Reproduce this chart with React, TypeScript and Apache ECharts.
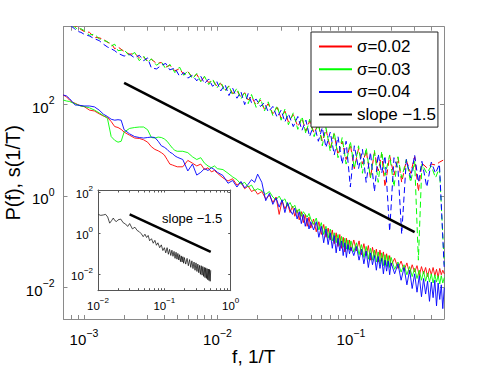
import React, { useEffect, useRef } from "react";
import * as echarts from "echarts";

// ---------- data ----------
// frequency grid of the P(f) curves
const fGrid = [
  0.0007, 0.00074, 0.00078, 0.00082, 0.00086, 0.0009, 0.00095, 0.001,
  0.0011, 0.0012, 0.0013, 0.0014, 0.0015, 0.0016, 0.0017, 0.0018, 0.0019, 0.002,
  0.0022, 0.0024, 0.0026, 0.0028, 0.003, 0.0032, 0.0034, 0.0036, 0.0038, 0.004, 0.0042, 0.0044, 0.0046, 0.0048, 0.005,
  0.0055, 0.006, 0.0065, 0.007, 0.0075, 0.008, 0.0085, 0.009, 0.0095, 0.01,
  0.011, 0.012, 0.013, 0.014, 0.015, 0.016, 0.017, 0.018, 0.019, 0.02,
  0.0215, 0.023, 0.0245, 0.026, 0.0275, 0.029, 0.0305, 0.032, 0.0335, 0.035, 0.0365, 0.038, 0.0395, 0.041, 0.0425, 0.044, 0.0455, 0.047, 0.0485, 0.05,
  0.0525, 0.055, 0.0575, 0.06, 0.0625, 0.065, 0.0675, 0.07, 0.0725, 0.075, 0.0775, 0.08, 0.0825, 0.085, 0.0875, 0.09, 0.0925, 0.095, 0.0975, 0.1,
  0.105, 0.11, 0.115, 0.12, 0.125, 0.13, 0.135, 0.14, 0.145, 0.15, 0.155, 0.16, 0.165, 0.17, 0.175, 0.18, 0.185, 0.19, 0.195, 0.2,
  0.2125, 0.225, 0.2375, 0.25, 0.2625, 0.275, 0.2875, 0.3, 0.3125, 0.325, 0.3375, 0.35, 0.3625, 0.375, 0.3875, 0.4, 0.4125, 0.425, 0.4375, 0.45, 0.4625, 0.475, 0.4875, 0.5,
];

// P(f), sigma = 0.02 (red)
const pRed = [
  162, 148, 126, 112, 107, 100, 93.3, 91.2,
  75.9, 72.4, 63.1, 56.2, 52.5, 42.7, 33.1, 31.6, 28.8, 25.1,
  21.4, 18.6, 18.2, 17.0, 15.1, 12.0, 10.5, 9.77, 8.91, 7.94, 6.31, 5.01, 4.79, 4.57, 4.37,
  4.37, 6.03, 5.25, 4.57, 5.01, 3.8, 4.17, 3.39, 3.63, 3.16,
  2.51, 2.14, 2.4, 1.74, 2.0, 1.45, 1.66, 1.26, 1.38, 1.1,
  1.26, 0.871, 1.05, 0.724, 0.955, 0.398, 0.794, 0.525, 0.692, 0.437, 0.603, 0.363, 0.501, 0.302, 0.457, 0.263, 0.398, 0.219, 0.347, 0.2,
  0.316, 0.166, 0.275, 0.145, 0.24, 0.126, 0.2, 0.11, 0.182, 0.0912, 0.158, 0.0794, 0.145, 0.0724, 0.126, 0.0603, 0.12, 0.0692, 0.11, 0.0631,
  0.11, 0.0631, 0.105, 0.0525, 0.0912, 0.0501, 0.0832, 0.0398, 0.0759, 0.0457, 0.0692, 0.0363, 0.0661, 0.038, 0.0603, 0.0316, 0.055, 0.0331, 0.0501, 0.0302,
  0.0437, 0.0263, 0.038, 0.024, 0.0347, 0.02, 0.0316, 0.0219, 0.0302, 0.0182, 0.0288, 0.02, 0.0275, 0.0174, 0.0263, 0.0191, 0.0275, 0.0182, 0.0251, 0.0166, 0.0263, 0.0191, 0.024, 0.02,
];

// P(f), sigma = 0.03 (green)
const pGreen = [
  126, 120, 117, 110, 105, 97.7, 93.3, 91.2,
  85.1, 75.9, 66.1, 57.5, 50.1, 20.0, 16.6, 15.1, 15.8, 25.1,
  30.2, 31.6, 32.4, 32.4, 28.2, 19.1, 18.6, 19.5, 19.1, 17.8, 15.8, 13.2, 11.2, 10.0, 9.55,
  9.55, 8.91, 7.24, 6.31, 6.92, 5.25, 4.57, 4.17, 4.57, 3.98,
  3.8, 3.16, 2.63, 2.29, 1.82, 2.0, 1.58, 1.74, 1.32, 1.45,
  1.32, 1.1, 1.26, 0.955, 0.832, 1.0, 0.759, 0.871, 0.603, 0.724, 0.55, 0.631, 0.437, 0.525, 0.363, 0.457, 0.398, 0.347, 0.417, 0.316,
  0.24, 0.331, 0.182, 0.263, 0.145, 0.219, 0.12, 0.191, 0.105, 0.158, 0.0955, 0.145, 0.0832, 0.132, 0.0759, 0.12, 0.0692, 0.11, 0.0661, 0.105,
  0.0603, 0.0955, 0.0525, 0.0871, 0.0457, 0.0794, 0.0417, 0.0724, 0.0398, 0.0661, 0.0363, 0.0603, 0.0331, 0.0575, 0.0302, 0.0525, 0.0288, 0.0501, 0.0275, 0.0457,
  0.0251, 0.0363, 0.0219, 0.0316, 0.0191, 0.0288, 0.0174, 0.0263, 0.0158, 0.024, 0.0145, 0.0229, 0.0138, 0.0209, 0.0132, 0.02, 0.0126, 0.0191, 0.0132, 0.0182, 0.012, 0.0182, 0.0126, 0.0166,
];

// P(f), sigma = 0.04 (blue)
const pBlue = [
  162, 155, 135, 115, 97.7, 97.7, 95.5, 93.3,
  93.3, 89.1, 75.9, 61.7, 55.0, 47.9, 45.7, 46.8, 45.7, 28.2,
  22.9, 20.0, 19.1, 18.6, 19.1, 19.5, 19.1, 15.8, 12.6, 11.7, 10.5, 9.12, 8.51, 7.59, 7.08,
  6.31, 3.55, 5.01, 2.88, 3.31, 3.98, 3.63, 4.17, 3.8, 3.31,
  2.82, 1.91, 2.19, 1.58, 2.09, 1.51, 1.82, 2.29, 2.0, 3.02,
  2.0, 0.794, 1.15, 0.661, 0.912, 0.575, 0.832, 0.437, 0.724, 0.501, 0.398, 0.55, 0.316, 0.457, 0.251, 0.398, 0.219, 0.331, 0.191, 0.275,
  0.182, 0.275, 0.126, 0.219, 0.0955, 0.191, 0.0871, 0.158, 0.0724, 0.138, 0.0575, 0.12, 0.0631, 0.105, 0.0501, 0.0955, 0.0457, 0.0871, 0.055, 0.0759,
  0.0501, 0.0794, 0.0398, 0.0692, 0.0331, 0.0631, 0.0275, 0.0575, 0.0316, 0.0501, 0.024, 0.0479, 0.0263, 0.0437, 0.02, 0.0398, 0.0229, 0.038, 0.0191, 0.0347,
  0.02, 0.0331, 0.0145, 0.0275, 0.0115, 0.024, 0.00955, 0.02, 0.00794, 0.0182, 0.00631, 0.0158, 0.00724, 0.0138, 0.00501, 0.0132, 0.00603, 0.0145, 0.00398, 0.0126, 0.0055, 0.0115, 0.00347, 0.01,
];

// frequency grid of the s(1/T) curves (dashed)
const fS = [
  0.0007, 0.00075, 0.0008, 0.00085, 0.0009, 0.00095, 0.001, 0.0011, 0.0012, 0.0013,
  0.0014, 0.0015, 0.0016, 0.0017, 0.0018, 0.002, 0.0022, 0.0024, 0.0026, 0.0028,
  0.003, 0.0032, 0.0035, 0.0038, 0.0041, 0.0044, 0.0048, 0.0052, 0.0056, 0.006,
  0.0065, 0.007, 0.0075, 0.008, 0.0086, 0.0092, 0.0099, 0.0106, 0.0114, 0.0122,
  0.013, 0.014, 0.015, 0.016, 0.017, 0.018, 0.0195, 0.021, 0.0225, 0.024,
  0.026, 0.028, 0.03, 0.032, 0.034, 0.037, 0.04, 0.043, 0.046, 0.049,
  0.053, 0.057, 0.061, 0.065, 0.07, 0.075, 0.08, 0.086, 0.092, 0.099,
  0.106, 0.114, 0.122, 0.13, 0.14, 0.15, 0.16, 0.17, 0.18, 0.195,
  0.21, 0.225, 0.24, 0.26, 0.28, 0.3, 0.32, 0.34, 0.37, 0.4,
  0.43, 0.46, 0.5,
];

const sRed = [
  7240, 6610, 5500, 5250, 5010, 4370, 3980, 3800, 2950, 2880,
  2690, 2290, 2190, 1660, 1820, 1450, 1260, 1320, 1050, 1100,
  891, 977, 794, 832, 661, 724, 550, 603, 457, 525,
  398, 457, 331, 398, 302, 347, 251, 288, 209, 251,
  174, 200, 145, 182, 126, 151, 95.5, 126, 79.4, 105,
  63.1, 87.1, 50.1, 72.4, 41.7, 60.3, 33.1, 50.1, 26.3, 43.7,
  24.0, 38.0, 15.8, 28.8, 11.2, 22.9, 7.94, 15.8, 6.31, 13.2,
  3.98, 11.0, 5.01, 10.0, 2.51, 9.12, 3.55, 8.32, 1.58, 7.59,
  2.88, 6.92, 2.0, 6.03, 3.16, 7.24, 1.26, 5.25, 4.17, 5.01,
  4.79, 5.5, 6.31,
];

const sGreen = [
  6310, 6030, 5750, 5010, 4370, 4570, 4170, 3310, 3470, 2750,
  2510, 2400, 1910, 2090, 1510, 1580, 1150, 1380, 912, 1150,
  832, 1000, 724, 871, 603, 759, 501, 661, 437, 550,
  363, 479, 316, 417, 275, 363, 229, 316, 191, 263,
  158, 229, 132, 191, 105, 166, 87.1, 138, 72.4, 115,
  57.5, 95.5, 45.7, 79.4, 36.3, 66.1, 28.8, 55.0, 22.9, 47.9,
  20.0, 39.8, 12.6, 31.6, 9.55, 25.1, 6.92, 19.1, 5.01, 15.8,
  3.98, 12.6, 3.16, 11.5, 2.51, 10.0, 2.0, 9.55, 2.82, 7.94,
  1.58, 7.24, 2.51, 6.31, 2.0, 5.75, 0.0398, 5.01, 3.16, 4.57,
  2.51, 4.17, 0.0316,
];

const sBlue = [
  6920, 5750, 5250, 4570, 3980, 3800, 3470, 3160, 2750, 2510,
  2090, 1820, 1660, 1510, 1320, 1150, 1260, 1050, 1200, 912,
  1050, 631, 603, 724, 794, 575, 631, 417, 501, 380,
  437, 331, 417, 288, 363, 251, 316, 200, 275, 158,
  229, 138, 191, 100, 174, 110, 132, 91.2, 110, 69.2,
  91.2, 52.5, 75.9, 41.7, 63.1, 33.1, 55.0, 27.5, 45.7, 20.0,
  38.0, 15.8, 31.6, 11.5, 25.1, 7.94, 20.0, 5.01, 15.8, 1.58,
  12.6, 3.98, 10.5, 2.0, 9.12, 1.26, 8.32, 3.16, 7.59, 0.17,
  6.92, 3.98, 0.148, 6.31, 2.51, 7.94, 2.0, 5.75, 1.58, 5.5,
  3.16, 5.01, 0.0251,
];

// reference slope -1.5 line
const slopeF = [0.002, 0.3];
const slopeV = [300, 0.163];

// inset
const insetF = [
  0.0102, 0.011, 0.012, 0.013, 0.014, 0.015, 0.016, 0.017, 0.018, 0.019, 0.02, 0.022, 0.024, 0.026, 0.028, 0.03,
  0.033, 0.036, 0.039, 0.042, 0.045, 0.048, 0.051, 0.054, 0.057, 0.06, 0.064, 0.068, 0.072, 0.076, 0.08, 0.085, 0.09, 0.095, 0.1,
  0.105, 0.11, 0.115, 0.12, 0.125, 0.13, 0.135, 0.14, 0.145, 0.15, 0.155, 0.16, 0.165, 0.17, 0.175, 0.18, 0.185, 0.19, 0.195, 0.2,
  0.21, 0.22, 0.23, 0.24, 0.25, 0.26, 0.27, 0.28, 0.29, 0.3, 0.31, 0.32, 0.33, 0.34, 0.35, 0.36, 0.37, 0.38, 0.39, 0.4,
  0.41, 0.42, 0.43, 0.44, 0.45, 0.46, 0.47, 0.48, 0.49, 0.5,
];
const insetV = [
  8.32, 7.59, 7.94, 8.51, 6.31, 3.16, 4.17, 5.62, 4.17, 3.8, 4.57, 5.01, 3.31, 2.88, 2.19, 3.02,
  1.66, 2.0, 1.38, 1.2, 0.955, 0.692, 0.912, 0.631, 0.794, 0.437, 0.55, 0.331, 0.457, 0.263, 0.347, 0.2, 0.275, 0.145, 0.2,
  0.112, 0.2, 0.0955, 0.166, 0.0832, 0.151, 0.0759, 0.132, 0.0603, 0.12, 0.055, 0.105, 0.0501, 0.0912, 0.0417, 0.0794, 0.0398, 0.0724, 0.0347, 0.0661,
  0.0316, 0.0603, 0.0263, 0.0525, 0.0219, 0.0457, 0.0191, 0.0398, 0.0158, 0.0363, 0.0138, 0.0316, 0.012, 0.0275, 0.01, 0.0263, 0.00912, 0.024, 0.00794, 0.0219,
  0.00692, 0.0209, 0.00631, 0.0191, 0.0055, 0.0182, 0.00501, 0.0174, 0.00457, 0.0158,
];
const insetSlopeF = [0.03, 0.5];
const insetSlopeV = [8.5, 0.125];

const legendNames = ["σ=0.02", "σ=0.03", "σ=0.04", "slope −1.5"];
const mainXLabelExp = [-3, -2, -1];
const mainYLabelExp = [-2, 0, 2];
const insetXLabelExp = [-2, -1, 0];
const insetYLabelExp = [-2, 0, 2];

// axis extents (log10 units)
const MAIN_X = [-3.153, -0.303];
const MAIN_Y = [-2.686, 3.703];
const INSET_X = [-2, 0];
const INSET_Y = [-2.8, 2.12];

const FONT = "'Liberation Sans', Arial, Helvetica, sans-serif";
const FRAME = "#8a8a8a";
const INSET_FRAME = "#555";

const lg = Math.log10;
const pts = (xs: number[], ys: number[]) => xs.map((x, i) => [lg(x), lg(ys[i])]);

function logTicks(lo: number, hi: number) {
  const out: number[] = [];
  for (let d = -5; d <= 4; d++) {
    for (let k = 1; k <= 9; k++) {
      const v = lg(k) + d;
      if (v >= lo - 1e-9 && v <= hi + 1e-9) out.push(v);
    }
  }
  return out;
}

const supFmt = (v: number) => {
  const e = Math.round(v);
  return `{b|10}{s|${e < 0 ? "−" + -e : e}}`;
};

const richMain = {
  b: { fontSize: 15, lineHeight: 20, verticalAlign: "bottom", fontFamily: FONT, color: "#000" },
  s: { fontSize: 10.5, lineHeight: 8, verticalAlign: "top", fontFamily: FONT, color: "#000" },
};
const richInset = {
  b: { fontSize: 11.5, lineHeight: 15, verticalAlign: "bottom", fontFamily: FONT, color: "#000" },
  s: { fontSize: 8, lineHeight: 6, verticalAlign: "top", fontFamily: FONT, color: "#000" },
};

export default function App() {
  const ref = useRef<HTMLDivElement>(null);

  useEffect(() => {
    if (!ref.current) return;
    const chart = echarts.init(ref.current, undefined, { renderer: "svg" });

    const mainXTicks = logTicks(MAIN_X[0], MAIN_X[1]);
    const insetXTicks = logTicks(INSET_X[0], INSET_X[1]);

    const xBase = (grid: number, ext: number[], ticks: number[], color: string, len: number) => ({
      gridIndex: grid,
      type: "value",
      min: ext[0],
      max: ext[1],
      splitLine: { show: false },
      axisLine: { show: true, onZero: false, lineStyle: { color, width: 1 } },
      axisTick: { show: true, inside: true, length: len, customValues: ticks, lineStyle: { color, width: 1 } },
    });

    const solid = (name: string, ys: number[], color: string) => ({
      name,
      type: "line",
      xAxisIndex: 0,
      yAxisIndex: 0,
      data: pts(fGrid, ys),
      symbol: "none",
      lineStyle: { color, width: 0.9 },
      itemStyle: { color },
      z: 3,
    });
    const dashed = (name: string, ys: number[], color: string) => ({
      name,
      type: "line",
      xAxisIndex: 0,
      yAxisIndex: 0,
      data: pts(fS, ys),
      symbol: "none",
      lineStyle: { color, width: 1, type: [6, 3.5] },
      itemStyle: { color },
      z: 2,
    });

    const mainLabel = (exps: number[], margin: number) => ({
      show: true,
      margin,
      customValues: exps,
      formatter: supFmt,
      fontSize: 15,
      fontFamily: FONT,
      color: "#000",
      rich: richMain,
    });
    const insetLabel = (exps: number[], margin: number) => ({
      show: true,
      margin,
      customValues: exps,
      formatter: supFmt,
      fontSize: 11.5,
      fontFamily: FONT,
      color: "#000",
      rich: richInset,
    });

    chart.setOption({
      animation: false,
      backgroundColor: "#fff",
      grid: [
        { left: 63.5, top: 26.7, width: 380.5, height: 292.3, outerBoundsMode: "none", containLabel: false },
        {
          left: 98, top: 190, width: 132.7, height: 100.7,
          outerBoundsMode: "none", containLabel: false,
          show: true, backgroundColor: "#fff", borderWidth: 0,
        },
      ],
      xAxis: [
        {
          ...xBase(0, MAIN_X, mainXTicks, FRAME, 4),
          position: "bottom",
          axisLabel: mainLabel(mainXLabelExp, 8),
          name: "f, 1/T",
          nameLocation: "middle",
          nameGap: 28,
          nameMoveOverlap: false,
          nameTextStyle: { fontSize: 19, fontFamily: FONT, color: "#000" },
        },
        { ...xBase(0, MAIN_X, mainXTicks, FRAME, 4), position: "top", axisLabel: { show: false } },
        {
          ...xBase(1, INSET_X, insetXTicks, INSET_FRAME, 2.5),
          position: "bottom",
          axisLabel: insetLabel(insetXLabelExp, 6),
        },
        { ...xBase(1, INSET_X, insetXTicks, INSET_FRAME, 2.5), position: "top", axisLabel: { show: false } },
      ],
      yAxis: [
        {
          ...xBase(0, MAIN_Y, mainYLabelExp, FRAME, 4),
          position: "left",
          axisLabel: mainLabel(mainYLabelExp, 9),
          name: "P(f), s(1/T)",
          nameLocation: "middle",
          nameRotate: 90,
          nameGap: 41,
          nameMoveOverlap: false,
          nameTextStyle: { fontSize: 20, fontFamily: FONT, color: "#000" },
        },
        { ...xBase(0, MAIN_Y, mainYLabelExp, FRAME, 4), position: "right", axisLabel: { show: false } },
        {
          ...xBase(1, INSET_Y, insetYLabelExp, INSET_FRAME, 2.5),
          position: "left",
          axisLabel: insetLabel(insetYLabelExp, 5),
        },
        { ...xBase(1, INSET_Y, insetYLabelExp, INSET_FRAME, 2.5), position: "right", axisLabel: { show: false } },
      ],
      legend: {
        data: legendNames,
        orient: "vertical",
        left: 311,
        top: 32,
        padding: [6, 2, 4, 7],
        itemWidth: 33,
        itemHeight: 14,
        itemGap: 5.7,
        itemStyle: { opacity: 0 },
        backgroundColor: "#fff",
        borderColor: "#222",
        borderWidth: 1,
        borderRadius: 0,
        selectedMode: false,
        textStyle: { fontSize: 17, fontFamily: FONT, color: "#000" },
      },
      graphic: [
        {
          type: "text",
          left: 162,
          top: 212,
          z: 20,
          style: { text: "slope −1.5", fontSize: 13, fontFamily: FONT, fill: "#000" },
        },
      ],
      series: [
        dashed("s(1/T) σ=0.02", sRed, "#ff0000"),
        dashed("s(1/T) σ=0.03", sGreen, "#00ff00"),
        dashed("s(1/T) σ=0.04", sBlue, "#0000ff"),
        solid(legendNames[0], pRed, "#ff0000"),
        solid(legendNames[1], pGreen, "#00ff00"),
        solid(legendNames[2], pBlue, "#0000ff"),
        {
          name: legendNames[3],
          type: "line",
          xAxisIndex: 0,
          yAxisIndex: 0,
          data: pts(slopeF, slopeV),
          symbol: "none",
          lineStyle: { color: "#000", width: 2.6 },
          itemStyle: { color: "#000" },
          z: 4,
        },
        {
          name: "inset P(f)",
          type: "line",
          xAxisIndex: 2,
          yAxisIndex: 2,
          data: pts(insetF, insetV),
          symbol: "none",
          lineStyle: { color: "#000", width: 0.7 },
          itemStyle: { color: "#000" },
          z: 10,
        },
        {
          name: "inset slope",
          type: "line",
          xAxisIndex: 2,
          yAxisIndex: 2,
          data: pts(insetSlopeF, insetSlopeV),
          symbol: "none",
          lineStyle: { color: "#000", width: 2.6 },
          itemStyle: { color: "#000" },
          z: 10,
        },
      ],
    });

    return () => chart.dispose();
  }, []);

  return (
    <div
      ref={ref}
      style={{ position: "fixed", left: 0, top: 0, width: 491, height: 368, background: "#fff" }}
    />
  );
}
